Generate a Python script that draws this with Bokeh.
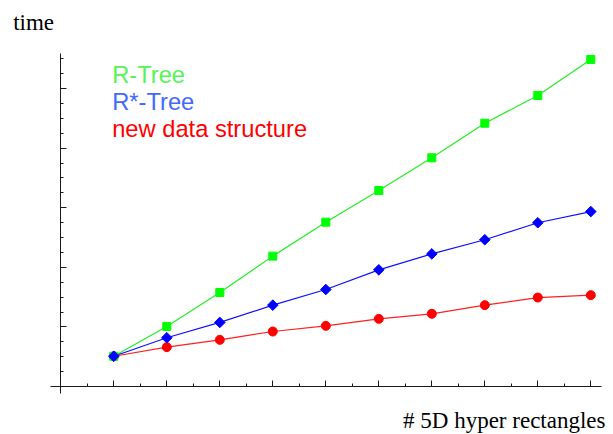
import math
from bokeh.plotting import figure
from bokeh.models import LinearAxis, FixedTicker, Range1d, Label, CustomJSTickFormatter
from bokeh.embed import file_html
from bokeh.resources import INLINE

# ---- data (arbitrary time units) ----
n_rects = [1, 2, 3, 4, 5, 6, 7, 8, 9, 10]
r_tree = [2.03, 4.03, 6.31, 8.75, 11.03, 13.15, 15.35, 17.67, 19.53, 21.95]
r_star_tree = [2.03, 3.27, 4.30, 5.46, 6.51, 7.83, 8.90, 9.85, 10.99, 11.74]
new_struct = [2.03, 2.64, 3.13, 3.69, 4.07, 4.54, 4.88, 5.46, 5.97, 6.13]
series_names = ["R-Tree", "R*-Tree", "new data structure"]
x_major = [1, 2, 3, 4, 5, 6, 7, 8, 9, 10]
x_minor = [0.5, 1.5, 2.5, 3.5, 4.5, 5.5, 6.5, 7.5, 8.5, 9.5]
y_major = [4, 8, 12, 16, 20]
y_minor = list(range(1, 23))
x_title = "# 5D hyper rectangles"
y_title = "time"

W, H = 613, 434
XPX, X0 = 53.0, 60.3      # px per x unit, page x of x=0
YPX, Y0 = 14.9, 386.0     # px per y unit, page y of y=0
TXT_DY = 8.0              # baseline correction for label placement (px)


def ydat(py):
    return (Y0 - py + TXT_DY) / YPX


def xdat(px):
    return (px - X0) / XPX


p = figure(width=W, height=H, output_backend="svg", toolbar_location=None,
           x_axis_type=None, y_axis_type=None,
           x_range=Range1d((0 - X0) / XPX, (W - X0) / XPX),
           y_range=Range1d((Y0 - H) / YPX, (Y0 - 0) / YPX),
           min_border_left=0, min_border_right=0, min_border_top=0, min_border_bottom=0)
p.outline_line_color = None
p.grid.visible = False
p.background_fill_color = "white"
p.border_fill_color = "white"

blank = CustomJSTickFormatter(code="return ''")
xa = LinearAxis(fixed_location=0, bounds=(-0.194, 10.21),
                ticker=FixedTicker(ticks=x_major, minor_ticks=x_minor), formatter=blank)
ya = LinearAxis(fixed_location=0, bounds=(-0.45, 22.35),
                ticker=FixedTicker(ticks=y_major, minor_ticks=y_minor), formatter=blank)
for ax in (xa, ya):
    ax.axis_line_color = "#1a1a1a"
    ax.axis_line_width = 1
    ax.major_tick_line_color = "#1a1a1a"
    ax.minor_tick_line_color = "#1a1a1a"
    ax.major_tick_in = 6
    ax.major_tick_out = 0
    ax.minor_tick_in = 3
    ax.minor_tick_out = 0
    ax.major_label_standoff = 0
    ax.major_label_text_font_size = "1px"
p.add_layout(xa, "below")
p.add_layout(ya, "left")

# lines
p.line(n_rects, new_struct, line_color="#ff2020", line_width=1.2)
p.line(n_rects, r_tree, line_color="#22ee22", line_width=1.2)
p.line(n_rects, r_star_tree, line_color="#1010ff", line_width=1.2)
# markers
p.scatter(n_rects, new_struct, marker="circle", size=9, fill_color="#ff0000", line_color="#ff0000")
p.scatter(n_rects, r_tree, marker="square", size=8, fill_color="#00ff00", line_color="#00ff00")
p.scatter(n_rects, r_star_tree, marker="square", angle=math.pi / 4, size=7.5,
          fill_color="#0000ff", line_color="#0000ff")

# legend texts
leg_colors = ["#55f555", "#4169ff", "#ff0000"]
leg_py = [82.3, 109.5, 136.0]
for name, c, py in zip(series_names, leg_colors, leg_py):
    p.add_layout(Label(x=xdat(111.7), y=ydat(py), text=name, text_color=c, text_font="Liberation Sans",
                       text_font_size="23.7px", text_baseline="alphabetic"))

p.add_layout(Label(x=xdat(12.7), y=ydat(30), text=y_title, text_color="black",
                   text_font="Liberation Serif", text_font_size="23px", text_baseline="alphabetic"))
p.add_layout(Label(x=xdat(605), y=ydat(427.7), text=x_title, text_color="black",
                   text_font="Liberation Serif", text_font_size="23px", text_baseline="alphabetic",
                   text_align="right"))

open("out.html", "w").write(file_html(p, INLINE))
